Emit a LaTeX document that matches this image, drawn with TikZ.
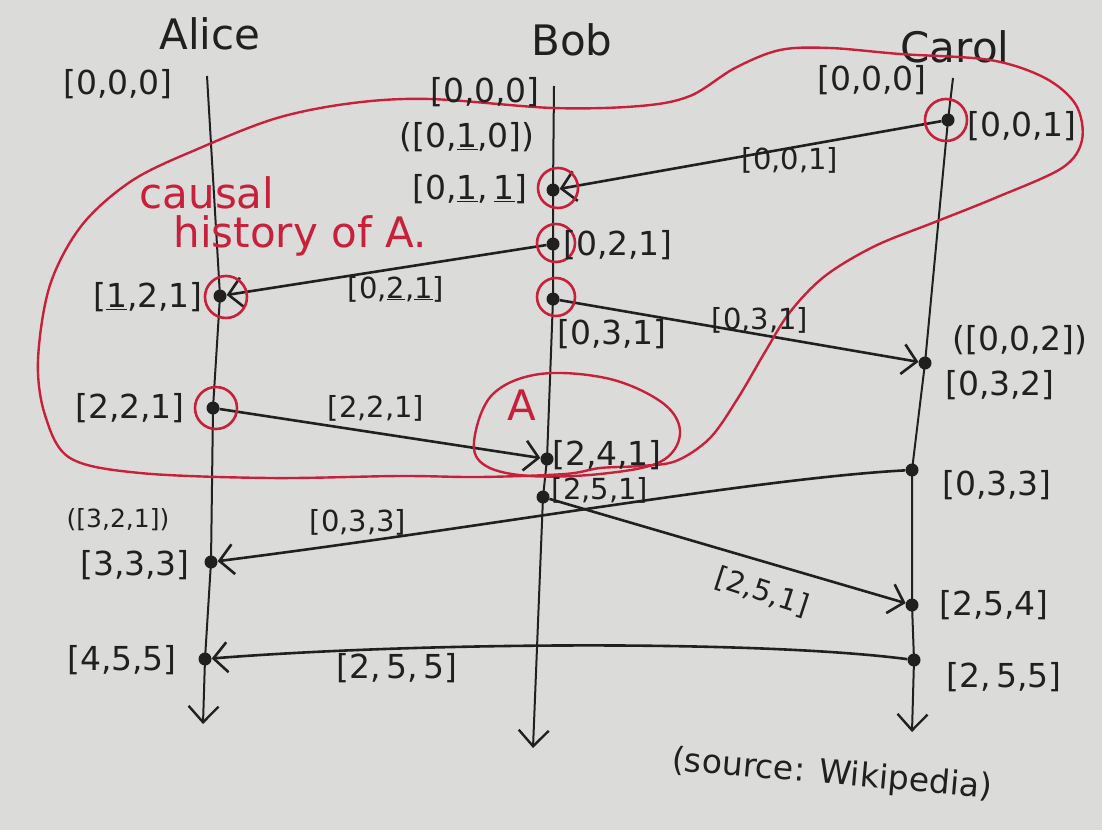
\documentclass[tikz,border=0pt]{standalone}
\usepackage{fontspec}
\setmainfont{DejaVu Sans}
\usetikzlibrary{arrows.meta}
\definecolor{paper}{RGB}{219,220,218}
\definecolor{ink}{RGB}{32,32,32}
\definecolor{redink}{RGB}{200,32,58}
\begin{document}
\begin{tikzpicture}[x=1pt,y=-1pt,
  life/.style={ink, line width=2pt, -{Straight Barb[length=16pt,width=30pt,line width=2.4pt]}},
  msg/.style={ink, line width=2.6pt, -{Straight Barb[length=14pt,width=30pt,line width=2.6pt]}},
  ev/.style={circle, fill=ink, inner sep=0pt, minimum size=13pt},
  ring/.style={redink, line width=2.6pt},
  blob/.style={redink, line width=2.4pt},
  vec/.style={text=ink, font=\fontsize{33}{36}\selectfont, inner sep=0pt},
  mlab/.style={text=ink, font=\fontsize{29}{32}\selectfont, inner sep=0pt},
  slab/.style={text=ink, font=\fontsize{25}{28}\selectfont, inner sep=0pt},
  who/.style={text=ink, font=\fontsize{42}{46}\selectfont, inner sep=0pt},
  redtxt/.style={text=redink, font=\fontsize{42}{46}\selectfont, inner sep=0pt},
]
\fill[paper] (0,0) rectangle (1102,830);
\useasboundingbox (0,0) rectangle (1102,830);

% process names
\node[who] (alice) at (210,34) {Alice};
\node[who] (bob) at (572,40) {Bob};
\node[who] (carol) at (955,47) {Carol};

% lifeline ends
\coordinate (atop) at (207,76);
\coordinate (abot) at (203,724);
\coordinate (btop) at (554,86);
\coordinate (bbot) at (533,748);
\coordinate (ctop) at (953,78);
\coordinate (cbot) at (912,732);

% events
\node[ev] (a1) at (220,296) {};
\node[ev] (a2) at (213,408) {};
\node[ev] (a3) at (211,562) {};
\node[ev] (a4) at (205,659) {};
\node[ev] (b1) at (553,190) {};
\node[ev] (b2) at (553,244) {};
\node[ev] (b3) at (553,299) {};
\node[ev] (b5) at (547,459) {};
\node[ev] (b6) at (543,497) {};
\node[ev] (c1) at (948,120) {};
\node[ev] (c2) at (925,363) {};
\node[ev] (c3) at (912,470) {};
\node[ev] (c4) at (912,605) {};
\node[ev] (c5) at (914,660) {};

% lifelines
\draw[life] (atop) -- (a1.center) -- (a2.center) -- (a3.center) -- (a4.center) -- (abot);
\draw[life] (btop) -- (b1.center) -- (b2.center) -- (b3.center) -- (b5.center) -- (b6.center) -- (bbot);
\draw[life] (ctop) -- (c1.center) -- (c2.center) -- (c3.center) -- (c4.center) -- (c5.center) -- (cbot);

% messages
\draw[msg] (c1) -- (b1);
\draw[msg] (b2) -- (a1);
\draw[msg] (b3) -- (c2);
\draw[msg] (a2) -- (b5);
\draw[msg] (c3) .. controls (760,478) and (480,528) .. (a3);
\draw[msg] (b6) -- (c4);
\draw[msg] (c5) .. controls (760,640) and (420,642) .. (a4);

% red rings
\draw[ring] (226,297) circle[radius=21];
\draw[ring] (216,408) circle[radius=21];
\draw[ring] (558,188) circle[radius=20];
\draw[ring] (556,243) circle[radius=19];
\draw[ring] (556,297) circle[radius=19];
\draw[ring] (946,120) circle[radius=21];

% causal history blob
\draw[blob] plot[smooth cycle, tension=0.55] coordinates {
  (400,476) (270,478) (140,473) (70,458) (45,415) (38,360) (50,285) (82,225)
  (133,180) (200,148) (277,118) (353,103) (430,99) (553,108) (640,106) (690,96)
  (735,68) (780,50) (830,48) (900,54) (990,60) (1045,78) (1076,105) (1082,140)
  (1062,168) (995,198) (935,222) (875,246) (825,276) (790,312) (765,352) (738,398)
  (710,438) (676,461) (640,466) (600,468) (565,474) (480,477)};

% event A ellipse
\draw[blob] plot[smooth cycle, tension=0.6] coordinates {
  (474,442) (492,395) (540,374) (610,379) (664,404) (680,434) (660,462)
  (600,474) (530,476) (486,466)};

% red texts
\node[redtxt] (causal) at (207,193) {causal};
\node[redtxt] (hist) at (300,236) {history of A.};
\node[redtxt] (evA) at (522,405) {A};

% vector clock labels
\node[vec] (a0) at (118,84) {[0,0,0]};
\node[vec] (b0) at (485,92) {[0,0,0]};
\node[vec] (c0) at (872,80) {[0,0,0]};
\node[vec] (b1p) at (467,137) {([0,\underline{1},0])};
\node[vec] (b1l) at (470,189) {[0,\underline{1},\,\underline{1}]};
\node[vec] (b2l) at (618,245) {[0,2,1]};
\node[vec] (b3l) at (612,334) {[0,3,1]};
\node[vec] (c1l) at (1022,126) {[0,0,1]};
\node[mlab] (m1) at (790,160) {[0,0,1]};
\node[mlab] (m2) at (396,289) {[0,\underline{2},\underline{1}]};
\node[vec] (a1l) at (148,297) {[\underline{1},2,1]};
\node[mlab] (m3) at (760,320) {[0,3,1]};
\node[vec] (c2p) at (1020,340) {([0,0,2])};
\node[vec] (c2l) at (1000,385) {[0,3,2]};
\node[vec] (a2l) at (130,408) {[2,2,1]};
\node[mlab] (m4) at (376,408) {[2,2,1]};
\node[vec] (b5l) at (607,455) {[2,4,1]};
\node[mlab] (b6l) at (600,490) {[2,5,1]};
\node[vec] (c3l) at (997,485) {[0,3,3]};
\node[slab] (a3p) at (118,520) {([3,2,1])};
\node[mlab] (m5) at (358,522) {[0,3,3]};
\node[vec] (a3l) at (135,565) {[3,3,3]};
\node[mlab, rotate=-18] (m6) at (762,592) {[2,5,1]};
\node[vec] (c4l) at (994,605) {[2,5,4]};
\node[vec] (a4l) at (122,660) {[4,5,5]};
\node[vec] (m7) at (397,668) {[2,\,5,\,5]};
\node[vec] (c5l) at (1004,677) {[2,\,5,5]};
\node[vec, rotate=-5] (src) at (832,775) {(source: Wikipedia)};
\end{tikzpicture}
\end{document}
